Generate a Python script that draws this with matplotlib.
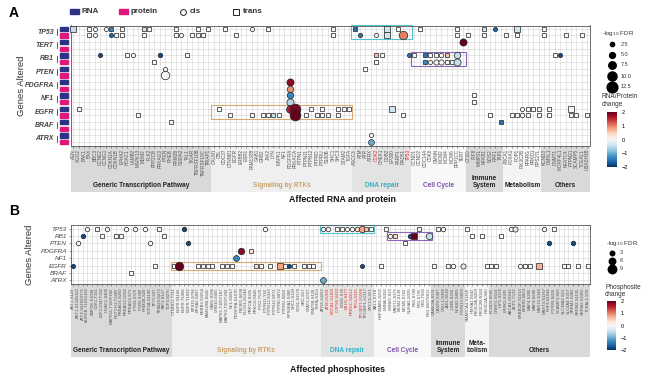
import matplotlib.pyplot as plt
from matplotlib.patches import Rectangle
from matplotlib.lines import Line2D
from matplotlib.colors import Normalize
from matplotlib.cm import ScalarMappable

W, H = 650, 378
plt.rcParams['font.family'] = ['Liberation Sans', 'DejaVu Sans']

# ---------------- panel A data ----------------
a_genes = ["TP53", "TERT", "RB1", "PTEN", "PDGFRA", "NF1", "EGFR", "BRAF", "ATRX"]
a_generic = ["AEN", "AGO2", "BAK1", "BAX", "BBC3", "CCNE2", "CCNG1", "CDKN1A", "CDKN1B",
             "EPHA2", "HDAC1", "LAMB2", "MAPK13", "MDM2", "PLK2", "PPP2CB", "PRKAG3", "PTEN",
             "RHEB", "RRM2B", "S100A2", "TAL1", "TIGAR", "TNFRSF10B", "TNFRSF10C", "TRIAP1"]
a_rtk = ["CALM1", "CBL", "CDC37", "CTNNB1", "EGFR", "ERBB2", "ESR1", "FAM132B", "GAB1",
         "GRB2", "JAK2", "LYN", "MAPK1", "NF1", "PDGFRA", "PRKACA", "PTPN1", "PTPN11",
         "PTPN12", "PTPRD", "PTPRU", "S100B", "SHC1", "SHC3", "STAM2", "TGFA"]
a_dna = ["ASCC3", "ATM", "ATR", "ATRX", "CDK2", "CHEK1", "DDB2", "EP300", "PARP1", "RAD51", "TP53"]
a_cycle = ["CCND1", "CCND2", "CDC14A", "CDK6", "GMNN", "MCM2", "MCM4", "MCM6", "PPP1CC", "TERT"]
a_immune = ["CTSD", "IRF8", "IMMP2L", "NFKB1", "NOS2", "RAF1", "TAP1"]
a_metab = ["ABCA1", "FOXA1", "POP1", "PIK3C2B", "PPARG", "PRKD1", "RPS27L"]
a_other = ["KCND3", "DMXL1", "DNMT1", "MORF4L1", "NFATC4", "PTPN21", "SCAMP5", "TCEAL1", "UBASH3B"]
a_group_names = ["Generic Transcription Pathway", "Signaling by RTKs", "DNA repair",
                 "Cell Cycle", "Immune\nSystem", "Metabolism", "Others"]
a_red = ["CDK2", "TP53"]

# (column, shape, -log10 FDR, change)
a_tp53_rna = [(0, 's', 7, -0.5), (3, 's', 2.5, 0), (4, 'o', 2.5, 0), (6, 'o', 2.5, 0),
              (7, 's', 5, -1.3), (9, 's', 3, 0), (13, 's', 5, -0.4), (14, 's', 3, 0),
              (19, 's', 3, 0), (23, 's', 4, 0), (25, 's', 3, 0), (28, 's', 3, 0),
              (33, 'o', 2.5, 0), (36, 's', 3, 0), (48, 's', 2.5, 0), (52, 's', 4, -1.5),
              (58, 's', 6, -0.4), (60, 's', 3, 0), (64, 's', 3, 0), (71, 's', 2.5, 0),
              (76, 's', 4, -0.4), (78, 'o', 2.5, -1.6), (82, 's', 6, -0.4), (87, 's', 5, 0)]
a_tp53_prot = [(3, 's', 2.5, 0), (4, 'o', 2.5, 0), (7, 'o', 2.5, -1.6), (8, 's', 3, 0),
               (9, 's', 3, 0), (13, 's', 3, 0), (19, 's', 5, 0), (20, 'o', 2.5, 0),
               (22, 's', 3, 0), (23, 's', 3, 0), (24, 's', 2.5, 0), (30, 's', 3, 0),
               (48, 's', 3, 0), (53, 'o', 2.5, -1.5), (56, 'o', 2.5, 0), (58, 's', 6, -0.4),
               (61, 'o', 9, 1.0), (71, 's', 3, 0), (73, 's', 3, 0), (76, 's', 4, 0),
               (80, 's', 3, 0), (82, 's', 4, 0), (87, 's', 5, 0), (91, 's', 2.5, 0), (94, 's', 3, 0)]
a_tert_rna = [(72, 'o', 7, 2.0)]
a_rb1_rna = [(5, 'o', 2.5, -1.8), (10, 's', 3, 0), (11, 'o', 2.5, 0), (16, 'o', 3, -1.8),
             (21, 's', 3, 0), (56, 's', 4, 0.6), (57, 's', 2.5, 0), (62, 'o', 2.5, -1.5),
             (63, 's', 3, 0), (65, 's', 4, -1.5), (66, 's', 4, 0), (67, 's', 4, 0),
             (68, 'o', 3, 0), (69, 's', 4, 0.6), (71, 'o', 6, -0.5), (89, 's', 3, 0),
             (90, 'o', 2.5, -1.8)]
a_rb1_prot = [(15, 's', 2.5, 0), (56, 's', 4, 0), (65, 's', 4, -1.3), (66, 'o', 2.5, 0),
              (67, 'o', 4, 0), (68, 'o', 4, 0), (69, 's', 4, 0), (70, 's', 4, 0), (71, 'o', 7, -0.5)]
a_pten_rna = [(17, 'o', 2.5, 0), (54, 's', 3, 0)]
a_pten_prot = [(17, 'o', 9, 0)]
a_pdgfra_rna = [(40, 'o', 7, 1.8)]
a_pdgfra_prot = [(40, 'o', 6, 0.9)]
a_nf1_rna = [(40, 'o', 6, -1.3), (74, 's', 2.5, 0)]
a_nf1_prot = [(40, 'o', 7, -0.6), (74, 's', 2.5, 0)]
a_egfr_rna = [(1, 's', 3, 0), (27, 's', 3, 0), (40, 'o', 8, 1.6), (41, 'o', 12.5, 1.9),
              (44, 's', 3, 0), (46, 's', 4, 0), (49, 's', 3, 0), (50, 's', 3, 0),
              (51, 's', 4, 0), (59, 's', 7, -0.4), (83, 'o', 2.5, 0), (84, 's', 4, 0),
              (85, 's', 4, 0), (86, 's', 4, 0), (88, 's', 3, 0), (92, 's', 7, 0)]
a_egfr_prot = [(12, 's', 2.5, 0), (29, 's', 3, 0), (33, 's', 3, 0), (35, 's', 3, 0),
               (36, 's', 3, 0), (37, 's', 4, -0.5), (38, 's', 4, 0), (41, 'o', 12.5, 2.0),
               (43, 's', 3, 0), (45, 's', 3, 0), (46, 's', 3, 0), (47, 's', 3, 0),
               (49, 's', 5, 0), (61, 's', 2.5, 0), (77, 's', 3, 0), (81, 's', 4, 0),
               (82, 's', 3, 0), (83, 'o', 3, 0), (84, 's', 3, 0), (86, 's', 3, 0),
               (88, 's', 3, 0), (92, 's', 3, 0), (93, 's', 3, 0), (95, 's', 3, 0)]
a_braf_rna = [(18, 's', 2.5, 0), (79, 's', 2.5, -1.5)]
a_atrx_rna = [(55, 'o', 2.5, 0)]
a_atrx_prot = [(55, 'o', 5, -1.0)]

# ---------------- panel B data ----------------
b_genes = ["TP53", "RB1", "PTEN", "PDGFRA", "NF1", "EGFR", "BRAF", "ATRX"]
b_generic = ["AKT1-S129", "AKT1-S124S126", "ATF2-S62S69T71", "AURKB-T101S103", "BMP2K-S1008",
             "CDK1-T161", "E2F3-S347T362", "HDAC1-S406", "MAPK11-T180Y182", "NOTCH1-T2485",
             "PRKAG1-S260", "PRKAG2-S158", "PRKAG3-S71", "PTEN-S370", "PTEN-S380",
             "RRM2B-S20", "TOP2A-S1106", "TP73-S47", "TRIM28-S473", "YAP1-S127", "TOP3-S275"]
b_rtk = ["CTNND1-T311", "EGFR-S1166", "EGFR-T1068", "EGFR-Y1092", "EPS15-S796", "EPHA2-S897",
         "ERBB2-S1054", "FAM129B-S641", "GAB1-S266", "GRB10-S455", "MAPK1-T185Y187",
         "MAPK3-T202Y204", "NF1-S2817", "PDGFRA-S1070", "PIK3R1-S608", "PLCG1-S1248",
         "PRKCA-S226", "PRKCD-S645", "PTK2-Y576", "PTPN11-Y62", "PTPN12-S332", "PTPN12-S571",
         "PTPRK-S872", "PTPRU-S853", "RPS6KA1-S380", "SHC1-S139", "SOS1-S1178", "SRC-S17",
         "STAT3-S727", "STAT5B-S128", "TGFA-S153"]
b_dna = ["ATRX-S1867", "ATM-S1981", "BRCA1-S1189", "COPS6-S410", "DDB2-S26", "MLH1-S477",
         "PRKDC-S2612", "TP53-S315", "TP53BP1-S1068", "TP53BP1-S1317", "XRCC6-S51"]
b_cycle = ["ABL1-S718", "HSP90AB1-S255", "LMNA-S392", "LMNB1-S23", "MASTL-S375", "MCM2-S139",
           "MCM6-S762", "NUMA1-S395", "RB1-S780", "RB1-S795", "RB1-T826", "RB1-S807S811"]
b_immune = ["CAMK2A-S331", "CASP8-S387", "CBLL1-S388", "JAK1-S518", "JUNB-S256",
            "NFKB2-S869", "PTPN13-S899"]
b_metab = ["SMARCA4-S1458", "HMHA1-S542", "PIK3C2A-S259", "PIK3C2B-S144", "PIK3C2A-S60"]
b_other = ["KCND3-S585", "DNMT1-S154", "HIP1-S376", "LRRK2-S935", "ABCA1-S1042", "ACP1-Y132",
           "ERBB2IP-S1014", "ERBIN-S829", "MAP4-S280", "MAP4-S696", "MAST2-S148",
           "MAST4-S1267", "PHF3-S1044", "PTPRN-S650", "SCAMP3-S86", "SLC38A2-S21",
           "SLC4A4-S257", "SRRM1-S402", "SRRM2-S1135", "SRRM2-S2355", "TCEAL1-S78"]
b_group_names = ["Generic Transcription Pathway", "Signaling by RTKs", "DNA repair",
                 "Cell Cycle", "Immune\nSystem", "Meta-\nbolism", "Others"]
b_red = ["ATM-S1981", "BRCA1-S1189", "COPS6-S410", "MLH1-S477", "PRKDC-S2612",
         "TP53-S315", "TP53BP1-S1068"]

b_tp53 = [(3, 'o', 3, 0), (5, 's', 4, 0), (7, 'o', 3, 0), (11, 'o', 3, 0), (13, 'o', 3, 0),
          (15, 'o', 3, 0), (18, 's', 4, 0), (23, 'o', 3, -1.8), (40, 'o', 3, 0),
          (52, 'o', 3, 0), (53, 'o', 3, 0), (55, 's', 5, 0), (56, 's', 5, 0), (57, 'o', 2.5, 0),
          (58, 'o', 3, 0), (59, 'o', 3, 0.4), (60, 'o', 6, 0.8), (61, 's', 5, 0.6),
          (62, 's', 3, 0), (65, 's', 3, 0), (72, 's', 3, 0), (76, 's', 3, 0), (77, 'o', 3, 0),
          (82, 's', 3, 0), (91, 'o', 3, 0), (92, 'o', 4, -0.3), (98, 'o', 3, 0), (100, 's', 3, 0)]
b_rb1 = [(2, 'o', 3, -1.8), (6, 's', 4, 0), (9, 's', 3, 0), (10, 's', 4, 0), (19, 's', 3, 0),
         (66, 'o', 3, 0), (67, 's', 5, 0.4), (70, 'o', 3, -1.8), (71, 's', 6, 2.0),
         (74, 'o', 6, -0.5), (83, 's', 3, 0), (85, 's', 3, 0), (89, 's', 3, 0)]
b_pten = [(1, 'o', 3, 0), (16, 'o', 3, 0), (24, 'o', 3, -1.8), (69, 's', 3, 0),
          (99, 'o', 3, -1.8), (104, 'o', 3, -1.8)]
b_pdgfra = [(35, 'o', 6, 1.8), (37, 's', 4, 0.3)]
b_nf1 = [(34, 'o', 5, -1.3)]
b_egfr = [(0, 'o', 2.5, -1.8), (17, 's', 3, 0), (21, 's', 3, 0), (22, 'o', 9, 2.0),
          (26, 's', 3, 0), (27, 's', 3, 0), (28, 's', 3, 0), (29, 's', 4, 0), (31, 's', 4, 0),
          (32, 's', 4, 0), (33, 's', 4, 0), (38, 's', 5, 0.3), (39, 's', 2.5, 0),
          (41, 's', 2.5, 0), (43, 's', 7, 0.8), (44, 's', 2.5, 0), (45, 'o', 2.5, -1.8),
          (46, 's', 4, 0), (48, 's', 4, 0), (49, 's', 4, 0), (50, 's', 4, 0),
          (60, 'o', 2.5, -1.8), (64, 's', 3, 0), (75, 's', 3, 0), (78, 's', 3, 0),
          (79, 'o', 3, 0), (81, 'o', 4, -0.3), (86, 's', 3, 0), (87, 's', 3, 0), (88, 's', 3, 0),
          (93, 'o', 3, 0), (94, 's', 4, 0), (95, 's', 4, 0), (97, 's', 7, 0.7),
          (102, 's', 3, 0), (103, 's', 3, 0), (105, 's', 3, 0), (107, 's', 3, 0)]
b_braf = [(12, 's', 3, 0)]
b_atrx = [(52, 'o', 5, -1.0)]

# ---------------- helpers ----------------
cmap = plt.get_cmap('RdBu_r')
norm = Normalize(-2, 2)
band_cols = ['#d9d9d9', '#efefef', '#e3e3e3', '#f8f8f8', '#d9d9d9', '#f4f4f4', '#d9d9d9']
group_cols = ['#222222', '#c9a06a', '#33b0c8', '#7d52a8', '#222222', '#222222', '#222222']


def frect(x0, y0, x1, y1):
    return [x0 / W, 1 - y1 / H, (x1 - x0) / W, (y1 - y0) / H]


def msize(fdr, shape):
    d = (2.6 + 0.65 * fdr) * 0.72
    return d * d * (0.7 if shape == 's' else 1.0)


def draw_points(ax, row, pts):
    for col, shape, fdr, chg in pts:
        ax.scatter(col, row, s=msize(fdr, shape), marker=shape, color=cmap(norm(chg)),
                   edgecolors='#222222', linewidths=0.5, zorder=3, clip_on=False)


def setup_grid(ax, labels, red, nrows, fs):
    ax.set_xlim(-0.5, len(labels) - 0.5)
    ax.set_ylim(nrows - 0.5, -0.5)
    ax.set_xticks(range(len(labels)))
    ax.set_xticklabels(labels, rotation=90, fontsize=fs, color='#555555')
    for t in ax.get_xticklabels():
        if t.get_text() in red:
            t.set_color('#e8302a')
    ax.set_yticks(range(nrows))
    ax.grid(color='#d2d2d2', lw=0.4)
    ax.set_axisbelow(True)
    ax.tick_params(axis='x', length=1.5, width=0.4, pad=1, color='#555555')
    for sp in ax.spines.values():
        sp.set_color('#555555')
        sp.set_linewidth(0.6)


def draw_bands(fig, rect, groups, names, fs, ylab):
    bx = fig.add_axes(rect, zorder=0)
    n = sum(len(g) for g in groups)
    bx.set_xlim(-0.5, n - 0.5)
    bx.set_ylim(0, 1)
    bx.axis('off')
    start = 0
    for i, g in enumerate(groups):
        bx.axvspan(start - 0.5, start + len(g) - 0.5, color=band_cols[i], lw=0)
        bx.text(start + len(g) / 2 - 0.5, ylab, names[i], ha='center', va='bottom',
                fontsize=fs, weight='bold', color=group_cols[i], linespacing=1.1)
        start += len(g)


def box(ax, c0, c1, r0, r1, color):
    ax.add_patch(Rectangle((c0 - 0.6, r0 - 0.55), c1 - c0 + 1.2, r1 - r0 + 1.1, fill=False,
                           edgecolor=color, lw=0.8, zorder=2, clip_on=False))


fig = plt.figure(figsize=(6.5, 3.78), dpi=100)
fig.patch.set_facecolor('white')

# ---------------- panel A ----------------
a_groups = [a_generic, a_rtk, a_dna, a_cycle, a_immune, a_metab, a_other]
a_labels = sum(a_groups, [])
axA = fig.add_axes(frect(70.5, 25.5, 590, 145.5), zorder=2)
setup_grid(axA, a_labels, a_red, 18, 3.3)
axA.set_yticklabels([])
axA.tick_params(axis='y', length=0)

a_rows = [(0, a_tp53_rna), (1, a_tp53_prot), (2, a_tert_rna), (4, a_rb1_rna), (5, a_rb1_prot),
          (6, a_pten_rna), (7, a_pten_prot), (8, a_pdgfra_rna), (9, a_pdgfra_prot),
          (10, a_nf1_rna), (11, a_nf1_prot), (12, a_egfr_rna), (13, a_egfr_prot),
          (14, a_braf_rna), (16, a_atrx_rna), (17, a_atrx_prot)]
for r, pts in a_rows:
    draw_points(axA, r, pts)

box(axA, 26, 51, 12, 13, '#d9aa70')
box(axA, 52, 62, 0, 1, '#52c4d2')
box(axA, 63, 72, 4, 5, '#8c66ba')

ytr = axA.get_yaxis_transform()
for g, name in enumerate(a_genes):
    for k, c in enumerate(['#2c3384', '#e0187c']):
        axA.add_patch(Rectangle((-0.0205, 2 * g + k - 0.32), 0.0155, 0.64, color=c,
                                transform=ytr, clip_on=False))
    axA.add_line(Line2D([-0.026, -0.026], [2 * g + 0.05, 2 * g + 0.95], color='#444444',
                        lw=0.6, transform=ytr, clip_on=False))
    axA.text(-0.032, 2 * g + 0.5, name, transform=ytr, ha='right', va='center',
             style='italic', weight='bold', fontsize=5, color='#444444')

draw_bands(fig, frect(70.5, 145.5, 590, 192), a_groups, a_group_names, 4.7, 0.06)

fig.text(14 / W, 1 - 13 / H, "A", fontsize=10, weight='bold', ha='center', va='center')
fig.text(22 / W, 1 - 86 / H, "Genes Altered", rotation=90, fontsize=6.8, color='#333333',
         ha='center', va='center')
fig.text(342 / W, 1 - 199 / H, "Affected RNA and protein", fontsize=6.3, weight='bold',
         ha='center', va='center', color='#111111')

# top legend
for x, c, lab in [(70, '#2c3384', "RNA"), (119, '#e0187c', "protein")]:
    fig.patches.append(Rectangle((x / W, 1 - 13.8 / H), 9 / W, 4.8 / H, color=c,
                                 transform=fig.transFigure))
    fig.text((x + 12) / W, 1 - 11.5 / H, lab, fontsize=5.8, weight='bold', color='#333333',
             va='center')
for x, m, lab in [(183, 'o', "cis"), (236, 's', "trans")]:
    fig.add_artist(Line2D([x / W], [1 - 11.5 / H], marker=m, ms=4.2, mfc='white', mec='#222222',
                          mew=0.7, transform=fig.transFigure))
    fig.text((x + 7) / W, 1 - 11.5 / H, lab, fontsize=5.8, weight='bold', color='#333333',
             va='center')

# right legend A
fig.text(602 / W, 1 - 34 / H, r'-log$_{10}$ FDR', fontsize=4.5, color='#333333', va='center')
for y, v in zip([44, 54.5, 65, 76, 87], [2.5, 5.0, 7.5, 10.0, 12.5]):
    fig.add_artist(Line2D([612 / W], [1 - y / H], marker='o', ms=(2.6 + 0.65 * v) * 0.72,
                          color='black', transform=fig.transFigure))
    fig.text(621 / W, 1 - y / H, f"{v:.1f}", fontsize=4, color='#333333', va='center')
fig.text(602 / W, 1 - 100.5 / H, "RNA/Protein\nchange", fontsize=4.7, color='#333333',
         va='center', linespacing=1.1)
caxA = fig.add_axes(frect(607, 112, 617, 167))
cbA = fig.colorbar(ScalarMappable(norm, cmap), cax=caxA, ticks=[-2, -1, 0, 1, 2])
cbA.outline.set_visible(False)
caxA.tick_params(labelsize=4, length=2, width=0.4, color='white', pad=1.5)

# ---------------- panel B ----------------
b_groups = [b_generic, b_rtk, b_dna, b_cycle, b_immune, b_metab, b_other]
b_labels = sum(b_groups, [])
axB = fig.add_axes(frect(70.5, 225, 590, 284), zorder=2)
setup_grid(axB, b_labels, b_red, 8, 3.0)
axB.set_yticklabels(b_genes, style='italic', fontsize=4.6, color='#444444')
axB.tick_params(axis='y', length=1.5, width=0.4, pad=1, color='#555555')

b_rows = [b_tp53, b_rb1, b_pten, b_pdgfra, b_nf1, b_egfr, b_braf, b_atrx]
for r, pts in enumerate(b_rows):
    draw_points(axB, r, pts)

box(axB, 21, 51, 5, 5, '#d9aa70')
box(axB, 52, 62, 0, 0, '#52c4d2')
box(axB, 66, 74, 1, 1, '#8c66ba')

draw_bands(fig, frect(70.5, 284, 590, 357), b_groups, b_group_names, 4.7, 0.04)

fig.text(14 / W, 1 - 211 / H, "B", fontsize=10, weight='bold', ha='center', va='center')
fig.text(30 / W, 1 - 255 / H, "Genes Altered", rotation=90, fontsize=6.8, color='#333333',
         ha='center', va='center')
fig.text(338 / W, 1 - 369 / H, "Affected phosphosites", fontsize=6.3, weight='bold',
         ha='center', va='center', color='#111111')

# right legend B
fig.text(606 / W, 1 - 243 / H, r'-log$_{10}$ FDR', fontsize=4.5, color='#333333', va='center')
for y, v in zip([253, 261, 269], [3, 6, 9]):
    fig.add_artist(Line2D([612 / W], [1 - y / H], marker='o', ms=(2.6 + 0.65 * v) * 0.72,
                          color='black', transform=fig.transFigure))
    fig.text(620 / W, 1 - y / H, str(v), fontsize=4, color='#333333', va='center')
fig.text(605 / W, 1 - 291 / H, "Phosphosite\nchange", fontsize=4.7, color='#333333',
         va='center', linespacing=1.1)
caxB = fig.add_axes(frect(607, 301, 616, 350))
cbB = fig.colorbar(ScalarMappable(norm, cmap), cax=caxB, ticks=[-2, -1, 0, 1, 2])
cbB.outline.set_visible(False)
caxB.tick_params(labelsize=4, length=2, width=0.4, color='white', pad=1.5)

fig.savefig("out.png", dpi=100)
